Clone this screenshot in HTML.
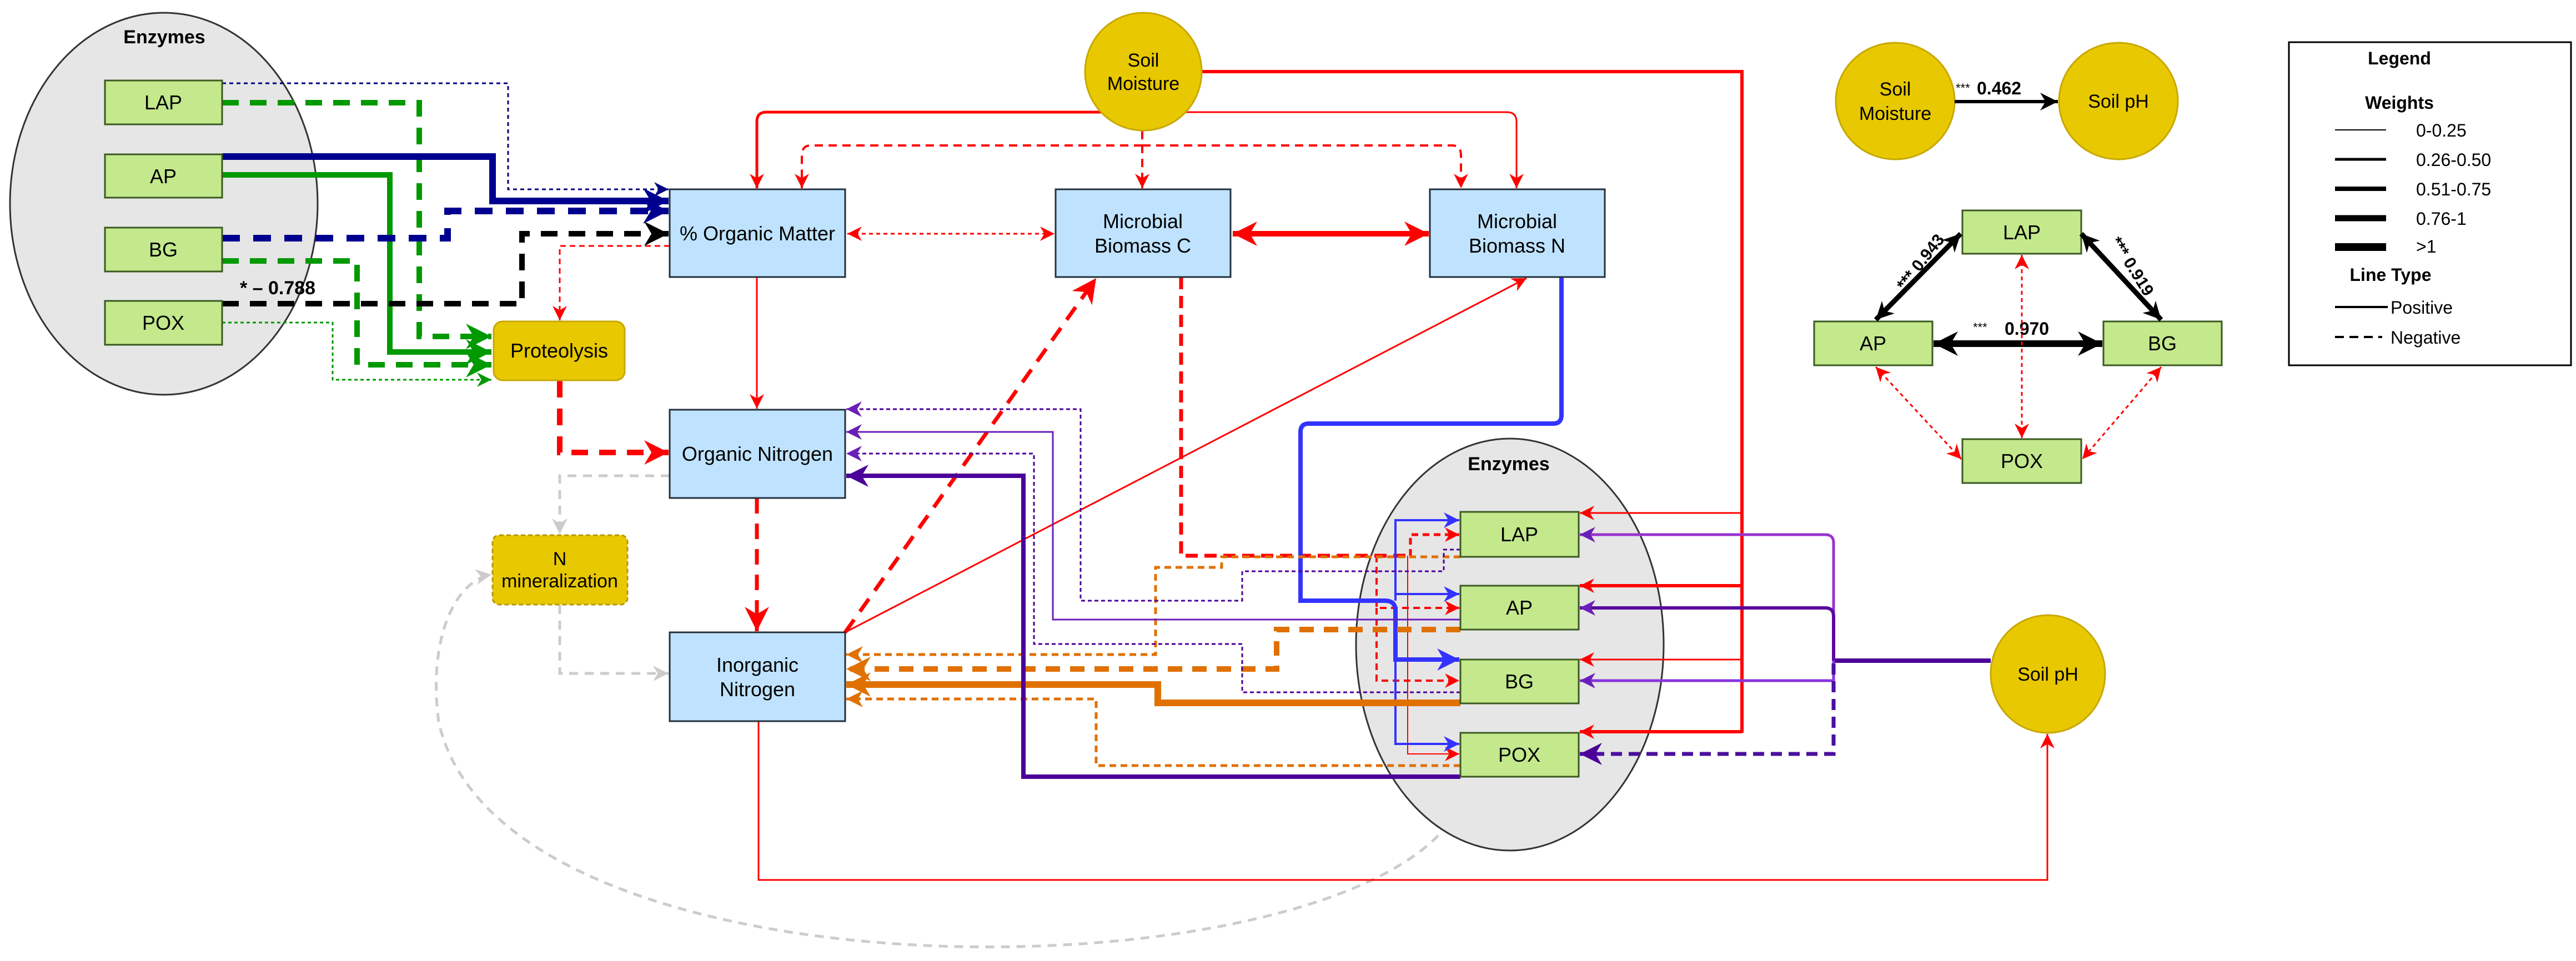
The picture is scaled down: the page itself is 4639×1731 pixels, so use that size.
<!DOCTYPE html>
<html><head><meta charset="utf-8"><style>html,body{margin:0;padding:0;background:#fff}svg{display:block}text{font-family:"Liberation Sans",sans-serif}</style></head><body>
<svg width="4639" height="1731" viewBox="0 0 4639 1731" xmlns="http://www.w3.org/2000/svg">
<defs>
<marker id="rS" viewBox="0 0 10 10" refX="10" refY="5" markerWidth="26" markerHeight="26" markerUnits="userSpaceOnUse" orient="auto-start-reverse"><path d="M0,0L10,5L0,10L3,5z" fill="#ff0000"/></marker>
<marker id="rB" viewBox="0 0 10 10" refX="10" refY="5" markerWidth="44" markerHeight="44" markerUnits="userSpaceOnUse" orient="auto-start-reverse"><path d="M0,0L10,5L0,10L3,5z" fill="#ff0000"/></marker>
<marker id="nS" viewBox="0 0 10 10" refX="10" refY="5" markerWidth="26" markerHeight="26" markerUnits="userSpaceOnUse" orient="auto"><path d="M0,0L10,5L0,10L3,5z" fill="#000080"/></marker>
<marker id="nB" viewBox="0 0 10 10" refX="10" refY="5" markerWidth="46" markerHeight="46" markerUnits="userSpaceOnUse" orient="auto"><path d="M0,0L10,5L0,10L3,5z" fill="#000090"/></marker>
<marker id="kB" viewBox="0 0 10 10" refX="10" refY="5" markerWidth="44" markerHeight="44" markerUnits="userSpaceOnUse" orient="auto-start-reverse"><path d="M0,0L10,5L0,10L3,5z" fill="#000"/></marker>
<marker id="kS" viewBox="0 0 10 10" refX="10" refY="5" markerWidth="32" markerHeight="32" markerUnits="userSpaceOnUse" orient="auto-start-reverse"><path d="M0,0L10,5L0,10L3,5z" fill="#000"/></marker>
<marker id="gS" viewBox="0 0 10 10" refX="10" refY="5" markerWidth="26" markerHeight="26" markerUnits="userSpaceOnUse" orient="auto"><path d="M0,0L10,5L0,10L3,5z" fill="#009900"/></marker>
<marker id="gB" viewBox="0 0 10 10" refX="10" refY="5" markerWidth="46" markerHeight="46" markerUnits="userSpaceOnUse" orient="auto"><path d="M0,0L10,5L0,10L3,5z" fill="#009900"/></marker>
<marker id="bS" viewBox="0 0 10 10" refX="10" refY="5" markerWidth="28" markerHeight="28" markerUnits="userSpaceOnUse" orient="auto"><path d="M0,0L10,5L0,10L3,5z" fill="#3333ff"/></marker>
<marker id="bB" viewBox="0 0 10 10" refX="10" refY="5" markerWidth="40" markerHeight="40" markerUnits="userSpaceOnUse" orient="auto"><path d="M0,0L10,5L0,10L3,5z" fill="#3333ff"/></marker>
<marker id="pS" viewBox="0 0 10 10" refX="10" refY="5" markerWidth="28" markerHeight="28" markerUnits="userSpaceOnUse" orient="auto"><path d="M0,0L10,5L0,10L3,5z" fill="#6a1fb8"/></marker>
<marker id="pB" viewBox="0 0 10 10" refX="10" refY="5" markerWidth="40" markerHeight="40" markerUnits="userSpaceOnUse" orient="auto"><path d="M0,0L10,5L0,10L3,5z" fill="#4b0099"/></marker>
<marker id="oS" viewBox="0 0 10 10" refX="10" refY="5" markerWidth="30" markerHeight="30" markerUnits="userSpaceOnUse" orient="auto"><path d="M0,0L10,5L0,10L3,5z" fill="#e07000"/></marker>
<marker id="oB" viewBox="0 0 10 10" refX="10" refY="5" markerWidth="44" markerHeight="44" markerUnits="userSpaceOnUse" orient="auto"><path d="M0,0L10,5L0,10L3,5z" fill="#e07000"/></marker>
<marker id="yS" viewBox="0 0 10 10" refX="10" refY="5" markerWidth="28" markerHeight="28" markerUnits="userSpaceOnUse" orient="auto"><path d="M0,0L10,5L0,10L3,5z" fill="#cccccc"/></marker>
</defs>

<!-- ellipses -->
<ellipse cx="295" cy="367" rx="277" ry="344" fill="#e6e6e6" stroke="#333" stroke-width="3"/>
<text x="296" y="78" font-size="34" font-weight="bold" text-anchor="middle">Enzymes</text>
<ellipse cx="2719" cy="1161" rx="277" ry="371" fill="#e6e6e6" stroke="#333" stroke-width="3"/>
<text x="2717" y="847" font-size="34" font-weight="bold" text-anchor="middle">Enzymes</text>

<!-- gray arc -->
<path d="M2590,1505 C2300,1800 900,1800 790,1300 C770,1150 820,1045 885,1035" fill="none" stroke="#cccccc" stroke-width="5" stroke-dasharray="16,12" marker-end="url(#yS)"/>

<!-- left enzyme connectors -->
<path d="M400,150 H915 V341 H1204" fill="none" stroke="#000080" stroke-width="3" stroke-dasharray="7,6" marker-end="url(#nS)"/>
<path d="M400,185 H755 V606 H885" fill="none" stroke="#009900" stroke-width="10" stroke-dasharray="30,20" marker-end="url(#gB)"/>
<path d="M400,282 H887 V362 H1204" fill="none" stroke="#000090" stroke-width="12" marker-end="url(#nB)"/>
<path d="M400,315 H702 V634 H885" fill="none" stroke="#009900" stroke-width="10" marker-end="url(#gB)"/>
<path d="M400,429 H806 V380 H1204" fill="none" stroke="#000090" stroke-width="12" stroke-dasharray="32,24" marker-end="url(#nB)"/>
<path d="M400,470 H643 V657 H885" fill="none" stroke="#009900" stroke-width="10" stroke-dasharray="30,20" marker-end="url(#gB)"/>
<path d="M400,547 H940 V421 H1204" fill="none" stroke="#000" stroke-width="10" stroke-dasharray="30,20" marker-end="url(#kB)"/>
<path d="M400,581 H599 V684 H885" fill="none" stroke="#009900" stroke-width="3" stroke-dasharray="6,5" marker-end="url(#gS)"/>
<text x="500" y="530" font-size="34" font-weight="bold" text-anchor="middle">* – 0.788</text>
<path d="M1206,443 H1008 V577" fill="none" stroke="#ff0000" stroke-width="3" stroke-dasharray="10,7" marker-end="url(#rS)"/>
<path d="M1008,686 V815 H1204" fill="none" stroke="#ff0000" stroke-width="10" stroke-dasharray="30,20" marker-end="url(#rB)"/>
<path d="M1206,857 H1008 V962" fill="none" stroke="#cccccc" stroke-width="5" stroke-dasharray="16,12" marker-end="url(#yS)"/>
<path d="M1008,1090 V1213 H1204" fill="none" stroke="#cccccc" stroke-width="5" stroke-dasharray="16,12" marker-end="url(#yS)"/>
<path d="M1363,499 V736" fill="none" stroke="#ff0000" stroke-width="3" marker-end="url(#rS)"/>
<path d="M1363,897 V1137" fill="none" stroke="#ff0000" stroke-width="7" stroke-dasharray="28,18" marker-end="url(#rB)"/>
<path d="M1366,1299 V1585 H3687 V1322" fill="none" stroke="#ff0000" stroke-width="3" marker-end="url(#rS)"/>

<!-- soil moisture connectors -->
<path d="M2059,202 H1380 Q1363,202 1363,219 V339" fill="none" stroke="#ff0000" stroke-width="5" marker-end="url(#rS)"/>
<path d="M2059,202 H2714 Q2731,202 2731,219 V339" fill="none" stroke="#ff0000" stroke-width="3" marker-end="url(#rS)"/>
<path d="M2057,236 V339" fill="none" stroke="#ff0000" stroke-width="4" stroke-dasharray="15,10" marker-end="url(#rS)"/>
<path d="M2057,262 H1460 Q1444,262 1444,280 V339" fill="none" stroke="#ff0000" stroke-width="4" stroke-dasharray="15,10" marker-end="url(#rS)"/>
<path d="M2057,262 H2615 Q2631,262 2631,280 V339" fill="none" stroke="#ff0000" stroke-width="4" stroke-dasharray="15,10" marker-end="url(#rS)"/>
<path d="M2164,129 H3137 V1320" fill="none" stroke="#ff0000" stroke-width="6"/>
<path d="M3137,924 H2845" stroke="#ff0000" stroke-width="3" marker-end="url(#rS)"/>
<path d="M3137,1055 H2845" stroke="#ff0000" stroke-width="6" marker-end="url(#rS)"/>
<path d="M3137,1188 H2845" stroke="#ff0000" stroke-width="3" marker-end="url(#rS)"/>
<path d="M3137,1318 H2845" stroke="#ff0000" stroke-width="6" marker-end="url(#rS)"/>
<path d="M1526,421 H1899" stroke="#ff0000" stroke-width="3" stroke-dasharray="7,6" marker-start="url(#rS)" marker-end="url(#rS)"/>
<path d="M2220,421 H2573" stroke="#ff0000" stroke-width="10" marker-start="url(#rB)" marker-end="url(#rB)"/>

<!-- MBC red dashed to enzymes -->
<path d="M2127,499 V1001 H2540" fill="none" stroke="#ff0000" stroke-width="7" stroke-dasharray="22,12"/>
<path d="M2540,1001 V963 H2628" fill="none" stroke="#ff0000" stroke-width="5" stroke-dasharray="12,8" marker-end="url(#rS)"/>
<path d="M2479,1001 V1095 H2628" fill="none" stroke="#ff0000" stroke-width="4" stroke-dasharray="12,8" marker-end="url(#rS)"/>
<path d="M2479,1095 V1226 H2628" fill="none" stroke="#ff0000" stroke-width="4" stroke-dasharray="12,8" marker-end="url(#rS)"/>
<path d="M2535,1001 V1358 H2628" fill="none" stroke="#ff0000" stroke-width="2" marker-end="url(#rS)"/>
<path d="M1522,1139 L1974,501" stroke="#ff0000" stroke-width="7" stroke-dasharray="28,18" marker-end="url(#rB)"/>
<path d="M1522,1139 L2749,501" stroke="#ff0000" stroke-width="3" marker-end="url(#rS)"/>

<!-- blue from MBN -->
<path d="M2812,499 V748 Q2812,763 2797,763 H2357 Q2342,763 2342,778 V1082 H2494 Q2513,1082 2513,1100 V1188 H2628" fill="none" stroke="#3333ff" stroke-width="8" marker-end="url(#bB)"/>
<path d="M2513,1082 V937 H2628" fill="none" stroke="#3333ff" stroke-width="4" marker-end="url(#bS)"/>
<path d="M2513,1070 H2628" fill="none" stroke="#3333ff" stroke-width="4" marker-end="url(#bS)"/>
<path d="M2513,1188 V1340 H2628" fill="none" stroke="#3333ff" stroke-width="4" marker-end="url(#bS)"/>

<!-- purple from soil pH -->
<path d="M3585,1190 H3302" stroke="#4b0099" stroke-width="8"/>
<path d="M3302,1190 V978 Q3302,963 3287,963 H2845" fill="none" stroke="#9933cc" stroke-width="5" marker-end="url(#pS)"/>
<path d="M3302,1190 V1110 Q3302,1095 3287,1095 H2845" fill="none" stroke="#5a0aa0" stroke-width="6" marker-end="url(#pS)"/>
<path d="M3302,1190 V1226 H2845" fill="none" stroke="#8833dd" stroke-width="5" marker-end="url(#pS)"/>
<path d="M3302,1195 V1358 H2845" fill="none" stroke="#4b0f9e" stroke-width="7" stroke-dasharray="20,12" marker-end="url(#pB)"/>

<!-- orange to inorganic N -->
<path d="M2630,1266 H2085 V1233 H1524" fill="none" stroke="#e07000" stroke-width="12" marker-end="url(#oB)"/>
<path d="M2630,1134 H2299 V1205 H1524" fill="none" stroke="#e07000" stroke-width="10" stroke-dasharray="26,18" marker-end="url(#oB)"/>
<path d="M2630,1003 H2200 V1022 H2081 V1179 H1524" fill="none" stroke="#e07000" stroke-width="5" stroke-dasharray="12,8" marker-end="url(#oS)"/>
<path d="M2630,1379 H1974 V1259 H1524" fill="none" stroke="#e07000" stroke-width="5" stroke-dasharray="12,8" marker-end="url(#oS)"/>

<!-- purple to organic N -->
<path d="M2630,1399 H1843 V857 H1524" fill="none" stroke="#4b0099" stroke-width="8" marker-end="url(#pB)"/>
<path d="M2630,990 H2600 V1029 H2237 V1082 H1946 V737 H1524" fill="none" stroke="#4b0099" stroke-width="3" stroke-dasharray="7,5" marker-end="url(#pS)"/>
<path d="M2630,1116 H1896 V778 H1524" fill="none" stroke="#6a1fb8" stroke-width="3" marker-end="url(#pS)"/>
<path d="M2630,1247 H2237 V1160 H1862 V817 H1524" fill="none" stroke="#4b0099" stroke-width="3" stroke-dasharray="7,5" marker-end="url(#pS)"/>

<!-- boxes left -->
<g fill="#c4e88c" stroke="#3a5a20" stroke-width="3">
<rect x="189" y="145" width="211" height="79"/><rect x="189" y="278" width="211" height="78"/>
<rect x="189" y="410" width="211" height="79"/><rect x="189" y="542" width="211" height="79"/>
<rect x="2630" y="922" width="213" height="81"/><rect x="2630" y="1055" width="213" height="79"/>
<rect x="2630" y="1188" width="213" height="79"/><rect x="2630" y="1320" width="213" height="79"/>
<rect x="3534" y="379" width="214" height="78"/><rect x="3267" y="579" width="213" height="79"/>
<rect x="3788" y="579" width="213" height="79"/><rect x="3534" y="791" width="214" height="79"/>
</g>
<g font-size="36" text-anchor="middle">
<text x="294" y="197">LAP</text><text x="294" y="330">AP</text><text x="294" y="462">BG</text><text x="294" y="594">POX</text>
<text x="2736" y="975">LAP</text><text x="2736" y="1107">AP</text><text x="2736" y="1240">BG</text><text x="2736" y="1372">POX</text>
<text x="3641" y="431">LAP</text><text x="3373" y="631">AP</text><text x="3894" y="631">BG</text><text x="3641" y="843">POX</text>
</g>
<g fill="#bfe3ff" stroke="#23303d" stroke-width="3">
<rect x="1206" y="341" width="316" height="158"/><rect x="1901" y="341" width="315" height="158"/>
<rect x="2575" y="341" width="315" height="158"/><rect x="1206" y="738" width="316" height="159"/>
<rect x="1206" y="1139" width="316" height="160"/>
</g>
<g font-size="36" text-anchor="middle">
<text x="1364" y="433">% Organic Matter</text>
<text x="2058" y="411">Microbial</text><text x="2058" y="455">Biomass C</text>
<text x="2732" y="411">Microbial</text><text x="2732" y="455">Biomass N</text>
<text x="1364" y="830">Organic Nitrogen</text>
<text x="1364" y="1210">Inorganic</text><text x="1364" y="1254">Nitrogen</text>
</g>
<rect x="889" y="579" width="236" height="106" rx="16" fill="#e8c800" stroke="#c8a800" stroke-width="3"/>
<text x="1007" y="644" font-size="36" text-anchor="middle">Proteolysis</text>
<rect x="887" y="964" width="243" height="125" rx="12" fill="#e8c800" stroke="#b89800" stroke-width="3" stroke-dasharray="8,5"/>
<text x="1008" y="1018" font-size="34" text-anchor="middle">N</text>
<text x="1008" y="1058" font-size="34" text-anchor="middle">mineralization</text>

<ellipse cx="2059" cy="129" rx="105" ry="106" fill="#e8c800" stroke="#c8a800" stroke-width="3"/>
<text x="2059" y="120" font-size="34" text-anchor="middle">Soil</text>
<text x="2059" y="162" font-size="34" text-anchor="middle">Moisture</text>
<ellipse cx="3688" cy="1214" rx="103" ry="106" fill="#e8c800" stroke="#c8a800" stroke-width="3"/>
<text x="3688" y="1226" font-size="34" text-anchor="middle">Soil pH</text>

<!-- top right -->
<ellipse cx="3413" cy="182" rx="107" ry="105" fill="#e8c800" stroke="#c8a800" stroke-width="3"/>
<text x="3413" y="172" font-size="34" text-anchor="middle">Soil</text>
<text x="3413" y="216" font-size="34" text-anchor="middle">Moisture</text>
<ellipse cx="3815" cy="182" rx="107" ry="105" fill="#e8c800" stroke="#c8a800" stroke-width="3"/>
<text x="3815" y="194" font-size="34" text-anchor="middle">Soil pH</text>
<path d="M3520,183 H3706" stroke="#000" stroke-width="6" marker-end="url(#kS)"/>
<text x="3522" y="166" font-size="22">***</text><text x="3560" y="170" font-size="32" font-weight="bold">0.462</text>

<path d="M3378,576 L3531,421" stroke="#000" stroke-width="9" marker-start="url(#kS)" marker-end="url(#kS)"/>
<path d="M3748,421 L3892,576" stroke="#000" stroke-width="9" marker-start="url(#kS)" marker-end="url(#kS)"/>
<path d="M3482,619 H3786" stroke="#000" stroke-width="12" marker-start="url(#kB)" marker-end="url(#kB)"/>
<text transform="translate(3430,525) rotate(-52)" font-size="30" font-weight="bold">*** 0.943</text>
<text transform="translate(3800,435) rotate(58)" font-size="30" font-weight="bold">*** 0.919</text>
<text x="3553" y="597" font-size="22">***</text><text x="3610" y="603" font-size="32" font-weight="bold">0.970</text>
<path d="M3641,459 V789" stroke="#ff0000" stroke-width="3" stroke-dasharray="7,6" marker-start="url(#rS)" marker-end="url(#rS)"/>
<path d="M3378,661 L3532,827" stroke="#ff0000" stroke-width="3" stroke-dasharray="7,6" marker-start="url(#rS)" marker-end="url(#rS)"/>
<path d="M3892,661 L3750,827" stroke="#ff0000" stroke-width="3" stroke-dasharray="7,6" marker-start="url(#rS)" marker-end="url(#rS)"/>

<!-- legend -->
<rect x="4122" y="76" width="508" height="582" fill="#fff" stroke="#000" stroke-width="3"/>
<text x="4321" y="116" font-size="32" font-weight="bold" text-anchor="middle">Legend</text>
<text x="4321" y="196" font-size="32" font-weight="bold" text-anchor="middle">Weights</text>
<path d="M4205,234 H4297" stroke="#000" stroke-width="2"/><text x="4351" y="246" font-size="32">0-0.25</text>
<path d="M4205,287 H4297" stroke="#000" stroke-width="5"/><text x="4351" y="299" font-size="32">0.26-0.50</text>
<path d="M4205,340 H4297" stroke="#000" stroke-width="8"/><text x="4351" y="352" font-size="32">0.51-0.75</text>
<path d="M4205,393 H4297" stroke="#000" stroke-width="11"/><text x="4351" y="405" font-size="32">0.76-1</text>
<path d="M4205,445 H4297" stroke="#000" stroke-width="14"/><text x="4351" y="455" font-size="32">&gt;1</text>
<text x="4305" y="506" font-size="32" font-weight="bold" text-anchor="middle">Line Type</text>
<path d="M4205,553 H4300" stroke="#000" stroke-width="4"/><text x="4305" y="565" font-size="32">Positive</text>
<path d="M4205,607 H4290" stroke="#000" stroke-width="4" stroke-dasharray="16,10"/><text x="4305" y="619" font-size="32">Negative</text>
</svg>
</body></html>
